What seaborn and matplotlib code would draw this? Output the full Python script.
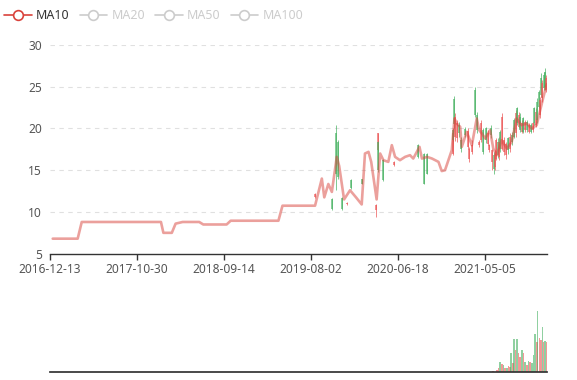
import pandas as pd
import matplotlib
matplotlib.use("Agg")
import matplotlib.pyplot as plt
from matplotlib.lines import Line2D
import seaborn as sns

UP_COLOR = "#eb5454"
DOWN_COLOR = "#47b262"
MA_COLOR = "#d9423b"
GREY = "#cccccc"

# MA10 line
ma_dates = [
    "2016-12-23", "2017-03-25", "2017-04-09", "2018-01-26", "2018-02-04", "2018-03-07",
    "2018-03-21", "2018-04-16", "2018-06-16", "2018-07-01", "2018-09-25", "2018-10-10",
    "2019-04-04", "2019-04-19", "2019-08-17", "2019-09-11", "2019-09-20", "2019-10-05",
    "2019-10-18", "2019-11-05", "2019-11-14", "2019-12-02", "2019-12-24", "2020-01-15",
    "2020-02-05", "2020-02-17", "2020-03-01", "2020-03-11", "2020-03-31", "2020-04-13",
    "2020-04-25", "2020-05-13", "2020-05-26", "2020-06-07", "2020-06-25", "2020-07-14",
    "2020-08-01", "2020-08-13", "2020-09-05", "2020-09-14", "2020-10-03", "2020-10-21",
    "2020-11-14", "2020-11-26", "2020-12-08", "2021-01-02", "2021-01-12", "2021-01-20",
    "2021-02-02", "2021-02-08", "2021-02-26", "2021-03-17", "2021-04-04", "2021-04-13",
    "2021-04-23", "2021-05-05", "2021-05-23", "2021-06-04", "2021-06-17", "2021-07-05",
    "2021-07-24", "2021-08-11", "2021-08-29", "2021-09-16", "2021-10-05", "2021-10-23",
    "2021-11-11", "2021-11-24", "2021-12-06", "2021-12-18",
]
ma_values = [
    6.8, 6.8, 8.8, 8.8, 7.5, 7.5, 8.6, 8.8, 8.8, 8.5,
    8.5, 8.95, 8.95, 10.75, 10.75, 14.0, 11.75, 13.35, 12.4, 16.6,
    15.5, 11.5, 12.6, 11.75, 10.9, 17.0, 17.2, 16.0, 11.5, 17.0,
    16.2, 16.0, 18.0, 16.6, 16.2, 16.6, 16.8, 16.4, 17.8, 16.4,
    16.6, 16.4, 16.0, 14.9, 15.0, 17.4, 21.2, 20.6, 20.2, 17.8,
    19.6, 18.0, 21.2, 19.8, 19.4, 18.8, 19.8, 17.6, 16.8, 18.6,
    17.6, 18.4, 21.2, 20.4, 20.6, 20.0, 20.4, 22.2, 23.8, 25.3,
]

# candlesticks (estimated)
candle_dates = [
    "2019-08-17", "2019-10-18", "2019-11-03", "2019-11-11", "2019-11-23", "2019-12-11",
    "2019-12-27", "2020-02-07", "2020-03-28", "2020-04-05", "2020-04-06", "2020-04-23",
    "2020-06-03", "2020-09-01", "2020-09-22", "2020-10-04", "2021-01-05", "2021-01-08",
    "2021-01-11", "2021-01-14", "2021-01-21", "2021-01-28", "2021-02-06", "2021-02-21",
    "2021-03-02", "2021-03-08", "2021-03-17", "2021-03-27", "2021-04-04", "2021-04-12",
    "2021-04-20", "2021-04-27", "2021-05-09", "2021-05-15", "2021-05-21", "2021-05-25",
    "2021-06-01", "2021-06-05", "2021-06-10", "2021-06-15", "2021-06-20", "2021-06-25",
    "2021-06-30", "2021-07-06", "2021-07-13", "2021-07-21", "2021-07-28", "2021-08-04",
    "2021-08-12", "2021-08-20", "2021-08-26", "2021-08-31", "2021-09-06", "2021-09-12",
    "2021-09-17", "2021-09-22", "2021-09-28", "2021-10-07", "2021-10-13", "2021-10-20",
    "2021-10-28", "2021-11-02", "2021-11-08", "2021-11-13", "2021-11-18", "2021-11-23",
    "2021-11-27", "2021-12-02", "2021-12-08", "2021-12-13", "2021-12-17",
]
candle_open = [
    11.8, 11.6, 19.5, 18.4, 11.7, 10.9, 13.8, 13.9, 10.2, 17.4, 18.4, 16.2,
    15.6, 18.0, 17.0, 17.0, 17.0, 19.8, 23.5, 19.0, 18.8, 20.4, 18.6, 19.9,
    17.8, 16.4, 17.2, 24.6, 21.6, 18.0, 18.6, 19.8, 20.0, 18.2, 17.4, 20.0,
    16.0, 16.8, 15.4, 16.4, 18.4, 16.6, 19.6, 17.6, 17.2, 16.8, 18.8, 17.6,
    19.2, 21.0, 19.4, 22.4, 20.2, 21.4, 19.6, 21.2, 19.8, 20.8, 19.6, 20.4,
    19.8, 22.4, 20.4, 23.2, 24.4, 21.6, 26.0, 23.6, 26.4, 26.8, 24.6,
]
candle_close = [
    12.2, 10.3, 14.5, 14.2, 10.3, 11.1, 12.9, 13.4, 10.8, 19.4, 15.0, 13.8,
    16.0, 16.6, 13.4, 14.6, 19.5, 18.6, 20.5, 21.4, 20.6, 19.4, 17.6, 19.2,
    19.7, 17.5, 18.0, 21.6, 19.8, 18.4, 20.6, 17.2, 18.6, 19.4, 18.0, 19.2,
    17.4, 15.2, 17.0, 18.6, 16.8, 18.4, 17.6, 21.4, 18.6, 18.2, 17.4, 19.0,
    18.4, 19.0, 21.8, 20.6, 21.6, 19.8, 20.6, 19.6, 20.8, 19.8, 20.4, 19.6,
    20.6, 20.6, 22.0, 21.0, 22.6, 23.4, 24.0, 25.4, 24.8, 25.0, 26.0,
]
candle_low = [
    11.7, 10.2, 12.6, 13.9, 10.2, 10.8, 12.8, 13.3, 9.4, 17.3, 14.8, 13.7,
    15.5, 16.5, 13.3, 14.5, 16.8, 18.5, 20.0, 18.5, 18.4, 19.0, 17.2, 19.0,
    17.5, 16.0, 17.0, 21.4, 19.5, 17.8, 18.4, 17.0, 18.3, 18.0, 17.2, 18.8,
    15.0, 14.6, 15.0, 16.2, 16.5, 16.2, 17.2, 17.4, 16.8, 16.4, 17.0, 17.2,
    18.0, 18.8, 19.0, 20.4, 20.0, 19.6, 19.4, 19.4, 19.6, 19.6, 19.4, 19.4,
    19.6, 20.4, 20.2, 20.6, 22.4, 21.2, 23.8, 23.2, 24.6, 24.6, 24.4,
]
candle_high = [
    12.3, 11.7, 20.4, 18.6, 11.8, 11.2, 13.9, 14.0, 10.9, 19.5, 18.5, 16.3,
    16.1, 18.1, 17.1, 17.1, 20.0, 19.9, 23.9, 21.8, 21.0, 20.8, 19.0, 20.2,
    20.0, 17.8, 18.6, 25.0, 22.0, 18.6, 21.0, 20.0, 20.2, 19.8, 18.2, 20.4,
    17.6, 17.2, 17.4, 18.8, 18.8, 19.0, 19.8, 21.8, 19.0, 18.4, 19.0, 19.4,
    19.6, 21.2, 22.2, 22.6, 22.0, 21.8, 21.0, 21.4, 21.0, 21.0, 20.6, 20.6,
    20.8, 22.6, 22.4, 23.6, 24.6, 23.8, 26.6, 25.8, 26.8, 27.2, 26.4,
]

# volume (estimated, 1 = 10k shares)
vol_dates = [
    "2021-06-04", "2021-06-17", "2021-06-23", "2021-06-29", "2021-07-05", "2021-07-11",
    "2021-07-18", "2021-07-24", "2021-07-30", "2021-08-05", "2021-08-09", "2021-08-15",
    "2021-08-20", "2021-08-25", "2021-08-30", "2021-09-05", "2021-09-11", "2021-09-17",
    "2021-09-23", "2021-09-29", "2021-10-06", "2021-10-12", "2021-10-18", "2021-10-24",
    "2021-10-30", "2021-11-05", "2021-11-11", "2021-11-14", "2021-11-21", "2021-11-26",
    "2021-12-02", "2021-12-06", "2021-12-12", "2021-12-18",
]
vol_values = [
    1.3, 2.0, 3.7, 10.3, 8.0, 6.7, 4.3, 3.7, 6.0, 5.3, 18.7, 8.7,
    32.7, 22.0, 32.7, 18.7, 15.3, 22.0, 18.7, 10.3, 7.0, 11.0, 10.3, 8.7,
    17.0, 37.7, 30.3, 61.0, 34.3, 32.0, 45.3, 30.3, 31.0, 30.3,
]
vol_up = [
    1, 1, 1, 0, 1, 0, 1, 0, 1, 1, 0, 1,
    0, 1, 0, 1, 1, 0, 1, 0, 1, 0, 1, 0,
    0, 0, 1, 0, 1, 1, 0, 1, 0, 1,
]

legend_labels = ["MA10", "MA20", "MA50", "MA100"]
tick_labels = ["2016-12-13", "2017-10-30", "2018-09-14", "2019-08-02", "2020-06-18", "2021-05-05"]
x_start, x_end = "2016-12-13", "2021-12-19"

sns.set_theme(style="white")
plt.rcParams["font.family"] = ["Noto Sans", "DejaVu Sans"]

ma = pd.DataFrame({"date": pd.to_datetime(ma_dates), "value": ma_values})
candles = pd.DataFrame({
    "date": pd.to_datetime(candle_dates),
    "open": candle_open, "close": candle_close,
    "low": candle_low, "high": candle_high,
})
candles["color"] = [UP_COLOR if c >= o else DOWN_COLOR for o, c in zip(candles["open"], candles["close"])]
vol = pd.DataFrame({"date": pd.to_datetime(vol_dates), "value": vol_values, "up": vol_up})

fig = plt.figure(figsize=(5.77, 3.80), dpi=100)
ax = fig.add_axes([50 / 577, 1 - 253.7 / 380, 497 / 577, 208.7 / 380])
ax_vol = fig.add_axes([50 / 577, 1 - 372 / 380, 497 / 577, 72 / 380], sharex=ax)

# candles, drawn under the MA line
ax.vlines(candles["date"], candles["low"], candles["high"], colors=candles["color"], lw=0.7, alpha=0.7)
ax.vlines(candles["date"], candles[["open", "close"]].min(axis=1), candles[["open", "close"]].max(axis=1),
          colors=candles["color"], lw=1.3, alpha=0.7)

sns.lineplot(data=ma, x="date", y="value", ax=ax, color=MA_COLOR, alpha=0.5, lw=1.9)

ax.set_xlim(pd.Timestamp(x_start), pd.Timestamp(x_end))
ax.set_ylim(5, 30)
ax.set_yticks([5, 10, 15, 20, 25, 30])
ax.set_xticks(pd.to_datetime(tick_labels))
ax.set_xticklabels(tick_labels)
ax.set_xlabel("")
ax.set_ylabel("")
for y in [10, 15, 20, 25, 30]:
    ax.axhline(y, color="#e0e0e0", lw=0.8, ls=(0, (4, 4)), zorder=0)
for side in ["top", "right", "left"]:
    ax.spines[side].set_visible(False)
ax.spines["bottom"].set_color("#333333")
ax.spines["bottom"].set_linewidth(1.0)
ax.tick_params(axis="x", length=4, width=1, color="#333333", labelsize=8.6, labelcolor="#555555", pad=3,
               bottom=True, labelbottom=True)
ax.tick_params(axis="y", length=0, labelsize=8.6, labelcolor="#555555", pad=6)

# volume
ax_vol.bar(vol["date"], vol["value"], width=6,
           color=[UP_COLOR if u else DOWN_COLOR for u in vol["up"]], alpha=0.6, linewidth=0)
ax_vol.set_ylim(0, max(vol_values) * 72 / 61)
for side in ["top", "right", "left"]:
    ax_vol.spines[side].set_visible(False)
ax_vol.spines["bottom"].set_color("#333333")
ax_vol.tick_params(left=False, bottom=False, labelleft=False, labelbottom=False)

# legend: only MA10 active
handles = []
for i, label in enumerate(legend_labels):
    c = MA_COLOR if i == 0 else GREY
    handles.append(Line2D([], [], color=c, lw=1.2, marker="o", markersize=7,
                          markerfacecolor="white", markeredgecolor=c, markeredgewidth=1.2))
leg = fig.legend(handles, legend_labels, loc="upper left", bbox_to_anchor=(4 / 577, 1 - 9 / 380),
                 ncol=4, frameon=False, fontsize=9, handlelength=2.2, handletextpad=0.35,
                 columnspacing=0.8, borderpad=0, borderaxespad=0)
for i, t in enumerate(leg.get_texts()):
    t.set_color("#333333" if i == 0 else GREY)

fig.savefig("out.png", dpi=100)
